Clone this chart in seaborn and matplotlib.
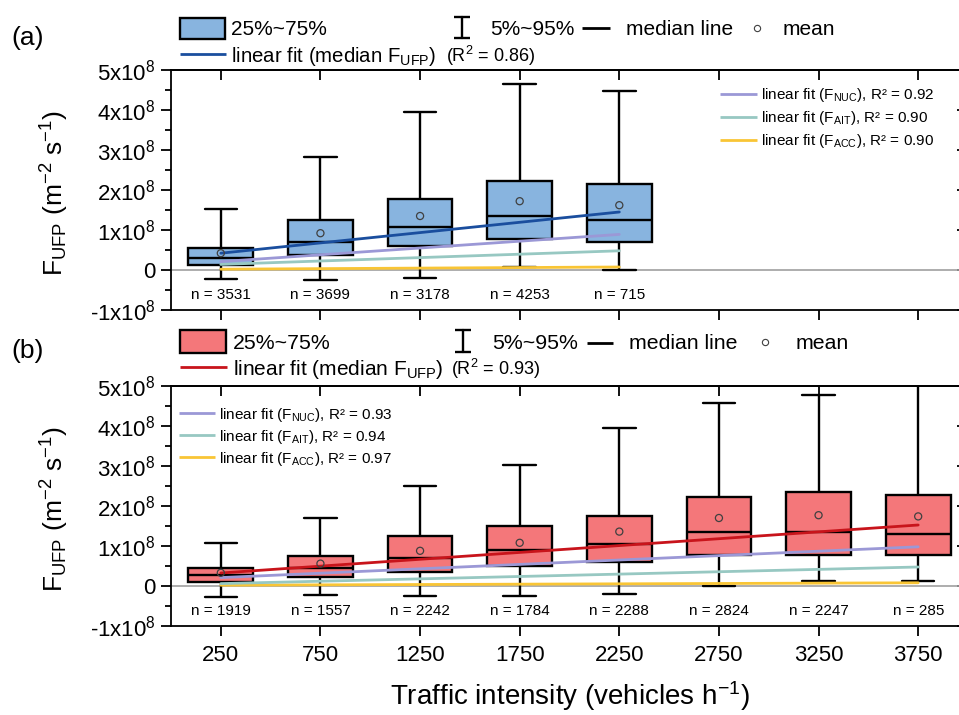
import numpy as np
import pandas as pd
import matplotlib
matplotlib.use("Agg")
import matplotlib.pyplot as plt
from matplotlib.patches import Rectangle
from matplotlib.lines import Line2D
from matplotlib.ticker import MultipleLocator
import seaborn as sns

# ---------------- data (flux in units of 1e8 m-2 s-1) ----------------
tick_pos = [250, 750, 1250, 1750, 2250, 2750, 3250, 3750]
tick_labels = ["250", "750", "1250", "1750", "2250", "2750", "3250", "3750"]
ytick_vals = [-1, 0, 1, 2, 3, 4, 5]
ytick_labels = ["-1x10$^{8}$", "0", "1x10$^{8}$", "2x10$^{8}$", "3x10$^{8}$",
                "4x10$^{8}$", "5x10$^{8}$"]

# panel (a)
traffic_a = [250, 750, 1250, 1750, 2250]
p5_a = [-0.23, -0.25, -0.21, 0.08, 0.00]
p25_a = [0.12, 0.37, 0.59, 0.78, 0.69]
p50_a = [0.31, 0.71, 1.08, 1.35, 1.24]
p75_a = [0.54, 1.26, 1.78, 2.23, 2.15]
p95_a = [1.53, 2.83, 3.96, 4.64, 4.48]
mean_a = [0.42, 0.92, 1.35, 1.72, 1.62]
n_a = [3531, 3699, 3178, 4253, 715]
fit_x_a = [250, 2250]
fit_median_a = [0.42, 1.45]
fit_nuc_a = [0.21, 0.89]
fit_ait_a = [0.14, 0.48]
fit_acc_a = [0.02, 0.075]
r2_a = [0.86, 0.92, 0.90, 0.90]

# panel (b)
traffic_b = [250, 750, 1250, 1750, 2250, 2750, 3250, 3750]
p5_b = [-0.27, -0.22, -0.24, -0.26, -0.20, 0.01, 0.125, 0.125]
p25_b = [0.10, 0.22, 0.36, 0.49, 0.59, 0.78, 0.78, 0.78]
p50_b = [0.28, 0.44, 0.70, 0.89, 1.05, 1.36, 1.35, 1.31]
p75_b = [0.44, 0.76, 1.24, 1.49, 1.75, 2.23, 2.35, 2.28]
p95_b = [1.08, 1.71, 2.51, 3.03, 3.95, 4.58, 4.78, 5.30]
mean_b = [0.33, 0.56, 0.88, 1.08, 1.36, 1.70, 1.77, 1.74]
n_b = [1919, 1557, 2242, 1784, 2288, 2824, 2247, 285]
fit_x_b = [250, 3750]
fit_median_b = [0.325, 1.525]
fit_nuc_b = [0.21, 0.98]
fit_ait_b = [0.06, 0.475]
fit_acc_b = [0.02, 0.08]
r2_b = [0.93, 0.93, 0.94, 0.97]

# ---------------- style ----------------
sns.set_style("ticks")
plt.rcParams["font.family"] = ["Liberation Sans", "DejaVu Sans"]
plt.rcParams["mathtext.default"] = "regular"
plt.rcParams["axes.linewidth"] = 1.3
plt.rcParams["axes.edgecolor"] = "black"
plt.rcParams["xtick.color"] = "black"
plt.rcParams["ytick.color"] = "black"
plt.rcParams["text.color"] = "black"

BLUE_FILL = "#88B4DF"
RED_FILL = "#F4777A"
BLUE_FIT = "#1A4E9E"
RED_FIT = "#C8141B"
NUC_C = "#9B98D6"
AIT_C = "#97C8C2"
ACC_C = "#F9C535"

W, H = 959, 715
fig = plt.figure(figsize=(W / 100, H / 100), dpi=100)


def fx(px):
    return px / W


def fy(py):
    return 1 - py / H


ax_a = fig.add_axes([fx(171), fy(310), (968 - 171) / W, (310 - 70) / H])
ax_b = fig.add_axes([fx(171), fy(626), (968 - 171) / W, (626 - 386) / H])


def quantile_table(traffic, *qs):
    rows = []
    for i, t in enumerate(traffic):
        for q in qs:
            rows.append((t, q[i]))
    return pd.DataFrame(rows, columns=["traffic", "flux"])


def draw_panel(ax, traffic, qs, means, ns, fill, fit_x, fits, fit_colors, show_xlabels):
    df = quantile_table(traffic, *qs)
    ax.axhline(0, color="#a0a0a0", lw=1.2, zorder=0.5)
    sns.boxplot(data=df, x="traffic", y="flux", native_scale=True, orient="x",
                whis=(0, 100), width=0.65, color=fill, saturation=1,
                linecolor="black", linewidth=1.7, showfliers=False, ax=ax)
    for vals, c in zip(fits, fit_colors):
        sns.lineplot(x=fit_x, y=vals, color=c, lw=2.0, ax=ax, zorder=4)
    sns.scatterplot(x=traffic, y=means, marker="o", s=26, facecolor="none",
                    edgecolor="#404040", linewidth=0.9, ax=ax, zorder=5)
    for t, n in zip(traffic, ns):
        ax.text(t, -0.625, f"n = {n}", ha="center", va="center", fontsize=11)

    ax.set_xlim(0, 4000)
    ax.set_ylim(-1, 5)
    ax.set_xlabel("")
    ax.set_ylabel("")
    ax.set_xticks(tick_pos)
    ax.set_xticklabels(tick_labels)
    ax.set_yticks(ytick_vals)
    ax.set_yticklabels(ytick_labels)
    ax.yaxis.set_minor_locator(MultipleLocator(0.5))
    ax.xaxis.set_minor_locator(matplotlib.ticker.NullLocator())
    ax.tick_params(axis="y", which="major", direction="out", length=7, width=1.3,
                   labelsize=16, pad=4, right=False)
    ax.tick_params(axis="y", which="minor", direction="out", length=4.5, width=1.3,
                   right=False)
    ax.tick_params(axis="x", which="major", direction="out", length=7.5, width=1.3,
                   labelsize=16, pad=6, top=False, labelbottom=show_xlabels)
    for s in ax.spines.values():
        s.set_visible(True)
        s.set_linewidth(1.3)
        s.set_color("black")

    sec_top = ax.secondary_xaxis("top")
    sec_top.set_xticks(tick_pos)
    sec_top.tick_params(direction="in", length=7, width=1.3, labeltop=False)
    sec_right = ax.secondary_yaxis("right")
    sec_right.set_yticks(ytick_vals)
    sec_right.tick_params(direction="in", length=8, width=1.3, labelright=False)


draw_panel(ax_a, traffic_a, [p5_a, p25_a, p50_a, p75_a, p95_a], mean_a, n_a, BLUE_FILL,
           fit_x_a, [fit_acc_a, fit_ait_a, fit_nuc_a, fit_median_a],
           [ACC_C, AIT_C, NUC_C, BLUE_FIT], False)
draw_panel(ax_b, traffic_b, [p5_b, p25_b, p50_b, p75_b, p95_b], mean_b, n_b, RED_FILL,
           fit_x_b, [fit_acc_b, fit_ait_b, fit_nuc_b, fit_median_b],
           [ACC_C, AIT_C, NUC_C, RED_FIT], True)


# ---------------- legends (drawn in figure pixel coordinates) ----------------
def add_rect(x0, y0, x1, y1, fc):
    fig.add_artist(Rectangle((fx(x0), fy(y1)), (x1 - x0) / W, (y1 - y0) / H,
                             transform=fig.transFigure, fc=fc, ec="black", lw=1.7))


def add_hline(x0, x1, y, color, lw=2.0):
    fig.add_artist(Line2D([fx(x0), fx(x1)], [fy(y), fy(y)], transform=fig.transFigure,
                          color=color, lw=lw, solid_capstyle="butt"))


def add_errbar(x, y0, y1, half=8):
    fig.add_artist(Line2D([fx(x), fx(x)], [fy(y0), fy(y1)], transform=fig.transFigure,
                          color="black", lw=1.7))
    for yy in (y0, y1):
        add_hline(x - half, x + half, yy, "black", lw=1.7)


def add_circle(x, y):
    fig.add_artist(Line2D([fx(x)], [fy(y)], transform=fig.transFigure, marker="o",
                          ms=4.5, mfc="none", mec="#404040", mew=0.8, ls="none"))


def add_text(x, y, s, size, va="baseline", ha="left", **kw):
    fig.text(fx(x), fy(y), s, fontsize=size, va=va, ha=ha, **kw)


# panel (a) top legend
add_rect(180, 18, 225, 39, BLUE_FILL)
add_text(231, 35, "25%~75%", 15)
add_errbar(462, 17, 38)
add_text(490, 35, "5%~95%", 15)
add_hline(582, 610, 28, "black")
add_text(626, 35, "median line", 15)
add_circle(757, 28)
add_text(783, 35, "mean", 15)
add_hline(180, 226, 54, BLUE_FIT)
add_text(231, 62, "linear fit (median F$_{UFP}$)", 14.7)
add_text(446, 62, f"(R$^{{2}}$ = {r2_a[0]:.2f})", 13)

# panel (a) inner legend
for y, c, sub, r2 in zip([94, 117, 140], [NUC_C, AIT_C, ACC_C], ["NUC", "AIT", "ACC"], r2_a[1:]):
    add_hline(720, 757, y, c)
    add_text(761, y + 5, f"linear fit (F$_{{{sub}}}$), R\u00b2 = {r2:.2f}", 11)

# panel (b) top legend
add_rect(180, 330, 226, 353, RED_FILL)
add_text(233, 349, "25%~75%", 15.3)
add_errbar(463, 330, 352)
add_text(492, 349, "5%~95%", 15.3)
add_hline(587, 613, 343, "black")
add_text(629, 349, "median line", 15.3)
add_circle(765, 342)
add_text(796, 349, "mean", 15.3)
add_hline(180, 227, 367, RED_FIT)
add_text(233, 375, "linear fit (median F$_{UFP}$)", 15)
add_text(451, 375, f"(R$^{{2}}$ = {r2_b[0]:.2f})", 13)

# panel (b) inner legend
for y, c, sub, r2 in zip([413, 435, 457], [NUC_C, AIT_C, ACC_C], ["NUC", "AIT", "ACC"], r2_b[1:]):
    add_hline(179, 215, y, c)
    add_text(219, y + 6, f"linear fit (F$_{{{sub}}}$), R\u00b2 = {r2:.2f}", 11)

# panel labels and axis titles
add_text(28, 38, "(a)", 19, va="center", ha="center")
add_text(28, 351, "(b)", 19, va="center", ha="center")
ylab = "F$_{UFP}$ (m$^{-2}$ s$^{-1}$)"
add_text(55, 193, ylab, 19, va="center", ha="center", rotation=90)
add_text(55, 509, ylab, 19, va="center", ha="center", rotation=90)
add_text(570, 705, "Traffic intensity (vehicles h$^{-1}$)", 20, va="baseline", ha="center")

fig.savefig("out.png", dpi=100)
